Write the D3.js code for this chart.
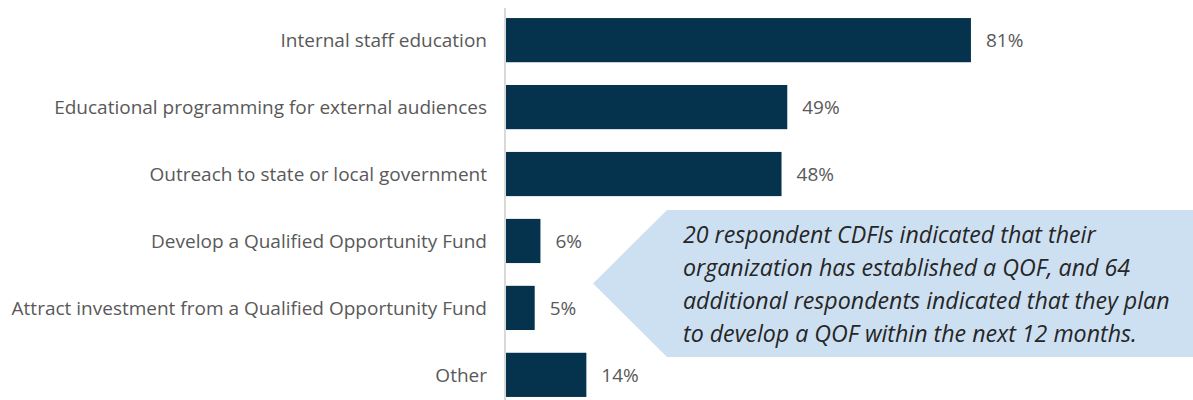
<!DOCTYPE html>
<html>
<head>
<meta charset="utf-8">
<script src="https://cdn.jsdelivr.net/npm/d3@7"></script>
<style>
  body { margin: 0; background: #fff; }
  svg { display: block; }
</style>
</head>
<body>
<div id="chart"></div>
<script>
// data
const categories = [
  'Internal staff education',
  'Educational programming for external audiences',
  'Outreach to state or local government',
  'Develop a Qualified Opportunity Fund',
  'Attract investment from a Qualified Opportunity Fund',
  'Other'
];
const values = [81, 49, 48, 6, 5, 14];
const calloutLines = [
  '20 respondent CDFIs indicated that their',
  'organization has established a QOF, and 64',
  'additional respondents indicated that they plan',
  'to develop a QOF within the next 12 months.'
];

const W = 1193, H = 400;
const left = 506;

const svg = d3.select('#chart').append('svg')
  .attr('width', W).attr('height', H);

// scales
const x = d3.scaleLinear().domain([0, 100]).range([left, left + 574]);
const y = d3.scaleBand().domain(categories).range([6, 409]).paddingInner(0.34).paddingOuter(0.18);

// axis line
svg.append('line')
  .attr('x1', left - 1).attr('x2', left - 1)
  .attr('y1', 8).attr('y2', H)
  .attr('stroke', '#d9d9d9').attr('stroke-width', 2);

// bars
svg.selectAll('rect.bar').data(values).enter()
  .append('rect').attr('class', 'bar')
  .attr('x', x(0))
  .attr('y', (d, i) => y(categories[i]))
  .attr('width', d => x(d) - x(0))
  .attr('height', y.bandwidth())
  .attr('fill', '#05334d');

// category labels
svg.selectAll('text.cat').data(categories).enter()
  .append('text').attr('class', 'cat')
  .attr('x', 487)
  .attr('y', d => y(d) + y.bandwidth() / 2)
  .attr('dy', '0.35em')
  .attr('text-anchor', 'end')
  .attr('font-family', '"Open Sans", sans-serif')
  .attr('font-size', 19)
  .attr('fill', '#595959')
  .text(d => d);

// value labels
svg.selectAll('text.val').data(values).enter()
  .append('text').attr('class', 'val')
  .attr('x', d => x(d) + 15)
  .attr('y', (d, i) => y(categories[i]) + y.bandwidth() / 2)
  .attr('dy', '0.35em')
  .attr('font-family', '"Open Sans", sans-serif')
  .attr('font-size', 19)
  .attr('fill', '#595959')
  .text(d => d + '%');

// callout
const cx0 = 667, cx1 = 1193, cy0 = 210, cy1 = 357, tipX = 593;
svg.append('path')
  .attr('d', `M${cx0},${cy0} L${cx1},${cy0} L${cx1},${cy1} L${cx0},${cy1} L${tipX},${(cy0 + cy1) / 2} Z`)
  .attr('fill', '#cde0f2');

svg.append('g').selectAll('text').data(calloutLines).enter()
  .append('text')
  .attr('x', 683)
  .attr('y', (d, i) => 243 + i * 33)
  .attr('font-family', '"Open Sans", sans-serif')
  .attr('font-style', 'italic')
  .attr('font-size', 23.2)
  .attr('fill', '#262626')
  .text(d => d);
</script>
</body>
</html>
